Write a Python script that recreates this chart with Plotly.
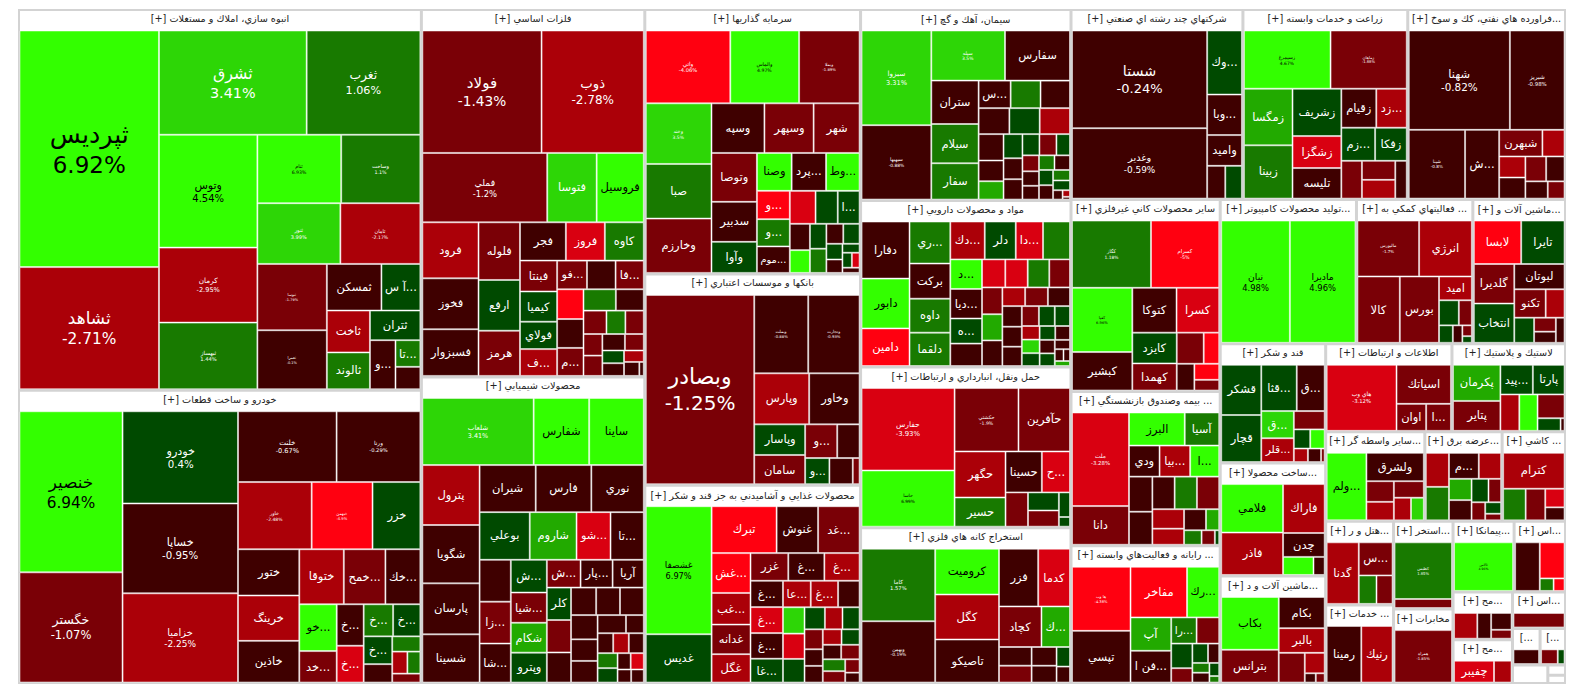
# Tehran stock market treemap, grouped by industry
import math
import plotly.graph_objects as go

# Industry headers and their measured box areas
sector_names = [
    "انبوه سازي، املاك و مستغلات", "خودرو و ساخت قطعات", "فلزات اساسي", "محصولات شيميايي",
    "سرمايه گذاريها", "بانكها و موسسات اعتباري", "محصولات غذايي و آشاميدني به جز قند و شكر",
    "سيمان، آهك و گچ", "مواد و محصولات دارويي", "حمل ونقل، انبارداري و ارتباطات",
    "استخراج كانه هاي فلزي", "شركتهاي چند رشته اي صنعتي", "زراعت و خدمات وابسته",
    "فراورده هاي نفتي، كك و سوخ...", "ساير محصولات كاني غيرفلزي", "بيمه وصندوق بازنشستگي ...",
    "رايانه و فعاليت‌هاي وابسته ...", "توليد محصولات كامپيوتر...", "فعاليتهاي كمكي به ...",
    "ماشين آلات و...", "قند و شكر", "ساخت محصولا...", "ماشين آلات و د...",
    "اطلاعات و ارتباطات", "لاستيك و پلاستيك", "ساير واسطه گر...", "عرضه برق...", "كاشي ...",
    "هتل و ر...", "خدمات ...", "استخر...", "مخابرات", "پيمانكا...", "اس...", "مح...", "مح...",
    "اس...", "...", "...", "", "", "",
]
sector_areas = [
    1366, 1052, 731, 610, 508, 406, 381, 358, 312, 301, 292, 291, 279, 267, 255, 205, 183,
    175, 149.5, 119, 112, 106, 101, 99, 89, 79, 61.6, 50.5, 50.5, 47.5, 46.5, 39.4, 38.4, 32.3, 25.3, 23.2, 17.2,
    9, 8.3, 5.8, 1.6, 1.3,
]

s01_names = ["ثپردیس", "ثشاهد", "ثشرق", "ثغرب", "وتوس", "كرمان", "ثبهساز", "ثنام", "وساخت", "ثنور", "ثامان", "ثنوسا", "ثعمرا", "ثمسكن", "آ س...", "ثاخت", "ثالوند", "ثتران", "و...", "تا...", ""]
s01_values = [293.5, 150.7, 136, 104.4, 97.8, 64.6, 57.3, 50, 47.2, 43.8, 42.2, 40, 35.5, 21.8, 15.4, 15.3, 13.4, 12.6, 10.5, 5.4, 4.5]
s01_pcts = [6.92, -2.71, 3.41, 1.06, 4.54, -2.95, 1.44, 6.93, 1.1, 3.99, -2.17, -1.79, -0.1, -0.6, 0.5, -2.5, 1.4, 0.6, -0.5, 1.3, -0.4]

s02_names = ["خنصير", "خگستر", "خودرو", "خساپا", "خزامیا", "خلنت", "ورنا", "خاور", "خبهمن", "خزر", "ختور", "خرينگ", "خاذين", "ختوقا", "خمح...", "خك...", "خو...", "خد...", "خ...", "خ...", "خ...", "خ...", "خ...", "", "", "", "", ""]
s02_values = [146.4, 99.7, 93.4, 91, 90.3, 60.9, 51.6, 42.9, 35.3, 27.6, 24.3, 23.8, 21.8, 20.9, 19.5, 16.3, 14.8, 9.8, 9.3, 8.2, 7.8, 7.2, 6.5, 4.2, 3.4, 2.6, 2.2, 1.9]
s02_pcts = [6.94, -1.07, 0.4, -0.95, -2.25, -0.67, -0.29, -2.48, -4.9, 0.7, -0.5, -2.4, -0.6, -2.6, -1.5, -0.4, 5.1, -1.4, -0.3, -3.5, 1.5, 0.5, 0.6, -0.4, 1.2, -2.2, 1.4, -1.6]

s03_names = ["فولاد", "ذوب", "فملي", "فتوسا", "فروسيل", "فرود", "فخوز", "فسبزوار", "فلوله", "ارفع", "هرمز", "فجر", "فروز", "كاوه", "فبنتا", "كيميا", "فولاي", "ف...", "فو...", "", "فا...", "", "", "م...", "", "", "", "", "", "", "", "", "", "", "", "", "", ""]
s03_values = [128, 109.6, 75.5, 29.4, 28, 26.9, 24.4, 22.3, 20.3, 17.8, 15.8, 14.8, 12.5, 12.5, 9.5, 9.3, 8.4, 8.2, 7, 6.7, 6.6, 6.4, 6.2, 6, 5.6, 4.8, 4.3, 3.5, 3.4, 3.2, 2.9, 2.4, 3, 2.1, 1.7, 2.1, 1.6, 0.4]
s03_pcts = [-1.43, -2.78, -1.2, 3.5, 5.2, -2.4, -0.6, -0.5, -1.5, 0.6, -1.3, -0.7, -3.3, 1.4, -1.2, 0.5, 0.4, -2.5, -1.4, -0.4, -1.3, -4.6, -0.5, -1.4, 1.5, -0.3, -1.5, 1.2, -1.6, -1.5, -0.5, -1.3, -1.4, 0.5, -2.6, -0.2, -0.4, -0.5]

s04_names = ["شلعاب", "شفارس", "ساينا", "پترول", "شگويا", "پارسان", "شسينا", "شيران", "فارس", "نوري", "بوعلي", "شاروم", "شو...", "تا...", "", "زا...", "شا...", "ش...", "شيا...", "شكام", "وپترو", "ش...", "پار...", "آريا", "كلر", "", "", "", "", "", "", "", "", "", "", "", "", "", "", "", "", "", "", ""]
s04_values = [65, 32, 31.5, 29.4, 28.6, 24.9, 23.5, 22.5, 22.3, 21, 20.3, 18.9, 13.6, 13.3, 10.9, 10.9, 10.1, 9.8, 9, 8.9, 8.9, 7.7, 7.3, 7.1, 6.4, 6.4, 5.9, 5.6, 5.3, 5.3, 5.2, 4.6, 4.6, 4.1, 2.5, 2.4, 2.4, 2.3, 2.3, 1.6, 1.6, 2.2, 1.3, 1.2]
s04_pcts = [3.41, 4.8, 5.1, -2.3, -0.6, -0.7, -0.5, -0.4, -0.6, -0.7, 0.6, 2.4, -3.4, -0.5, -0.4, -1.4, -0.6, 0.5, -1.5, 2.6, 0.4, -1.3, -0.7, -0.4, 0.6, -1.5, -0.3, -0.5, -0.4, -0.6, -0.3, -0.5, -0.4, -0.6, -0.7, -0.4, -2.3, -0.5, 1.3, -0.4, -3.6, 0.3, -0.4, -0.5]

s05_names = ["واتي", "والماس", "وبملا", "وخند", "صبا", "وخارزم", "وسپه", "وسپهر", "شهر", "وتوصا", "سدبير", "وآوا", "وصنا", "پرد...", "وط...", "و...", "و...", "موم...", "", "ا...", "", "", "", "", "", "", "", "", "", "", "", "", ""]
s05_values = [53, 43, 37.7, 34, 30.6, 30.4, 22.2, 20.6, 19.2, 18.7, 15.2, 11.7, 10.9, 10.8, 10.5, 7.6, 7.3, 7.1, 6.9, 5.8, 5.9, 4.2, 3.6, 3.2, 3.1, 2.5, 1.9, 1.6, 2.6, 1.1, 1, 0.8, 0.6]
s05_pcts = [-4.06, 4.97, -1.89, 3.5, 1.3, -1.4, -0.5, -1.3, -1.5, -1.2, -0.6, 0.5, 5, -0.6, 4.8, -4.4, 1.2, -0.4, -3.3, 0.6, 0.4, -0.5, 5.2, 0.5, 1.3, 0.4, 0.3, -0.4, -0.5, 0.6, 0.4, -3.5, -0.6]

s06_names = ["وبصادر", "وبملت", "وتجارت", "وپارس", "وخاور", "وپاسار", "سامان", "و...", "", "و...", "", ""]
s06_values = [180, 36.3, 34.5, 23.8, 21.8, 13, 12.4, 8.9, 6.1, 5.1, 4.9, 1.3]
s06_pcts = [-1.25, -0.88, -0.93, -2.2, -0.7, 0.5, -1.3, -1.4, -0.5, 0.4, -0.6, -1.2]

s07_names = ["غشصفا", "غديس", "تبرك", "غنوش", "غد...", "غش...", "غب...", "غدانه", "غگل", "غزر", "غ...", "غ...", "غ...", "غ...", "غ...", "غا...", "عا...", "غ...", "", "", "", "", "", "", "", "", "", "", "", "", "", "", "", "", "", ""]
s07_values = [72.4, 26.8, 25.7, 16.2, 16.2, 12.8, 10.1, 9.4, 9, 8.5, 8.1, 7.9, 6.9, 6.8, 6.7, 6.2, 5.9, 5.8, 4.5, 4.5, 4.3, 4, 3.5, 3, 2.9, 2.1, 2, 2, 2.8, 2.3, 2.2, 2, 2.3, 1.9, 1.4, 1]
s07_pcts = [6.97, 0.6, -4.4, -0.6, -1.4, -4.6, -2.4, -1.3, -2.6, -1.5, -0.5, -2.5, -0.7, -3.2, -0.4, 0.5, -2.3, -2.7, -0.5, 3.6, -3.4, 0.4, 0.6, -2.3, 0.5, 0.3, -0.5, -1.4, -1.5, -0.4, -2.6, 1.4, -0.5, -1.2, -1.4, -0.4]

s08_names = ["سبزوا", "سبهبها", "سيله", "سفارس", "ستران", "سيلام", "سفار", "س...", "", "", "", "", "", "", "", "", "", "", "", "", "", "", "", "", "", "", "", "", "", "", "", "", "", ""]
s08_values = [57.1, 44.7, 31.6, 27.8, 17.3, 15.6, 14.4, 7.2, 6.7, 6.5, 6.6, 6.4, 6.4, 5.3, 4.1, 3.6, 3.6, 3.1, 3, 2.8, 2, 1.8, 1.7, 2.8, 2.2, 1.7, 1.6, 1.5, 1.7, 1.3, 1.2, 0.6, 0.3, 0.1]
s08_pcts = [3.31, -0.88, 3.5, -0.6, -0.7, 1.3, 1.5, -0.5, 1.4, -0.4, -0.6, 0.5, -2.5, -0.4, -0.7, 2.5, 0.4, -0.6, -0.5, 0.6, -1.6, -0.4, -0.5, -1.4, 0.5, 1.3, 0.4, -0.6, -0.5, 1.4, 0.6, -0.5, -2.4, -0.3]

s09_names = ["دفارا", "دابور", "دامين", "ري...", "بركت", "داوه", "دلقما", "دك...", "دلر", "دا...", "", "د...", "ديا...", "ه...", "", "", "", "", "", "", "", "", "", "", "", "", "", "", "", "", "", "", "", "", "", "", "", "", "", "", "", ""]
s09_values = [23, 20, 15, 14.2, 11.8, 11.4, 11.2, 10.7, 9.6, 8.4, 8.3, 7.6, 7.6, 6.4, 5.7, 5.2, 5, 4.8, 4.6, 4.3, 4.1, 4.2, 3.3, 3.3, 3.2, 3.1, 3, 2.4, 2.3, 2.9, 1.8, 1.6, 1.5, 2.6, 1.8, 1.7, 1.5, 1.4, 1, 0.7, 0.5, 0.5]
s09_pcts = [-0.6, 5.4, -4.5, 1.4, -0.5, 1.3, 1.2, -2.4, 0.5, -3.3, 1.5, 4.9, -0.6, 0.4, -0.5, -3.4, -3.6, 1.3, -1.5, -1.4, -0.6, 2.4, -2.6, -1.4, -0.5, -0.4, -0.6, 0.5, 0.4, -0.7, -2.3, 0.6, -0.5, -1.4, 3.4, 0.5, -0.4, 0.3, -0.6, -0.5, -0.4, 2.6]

s10_names = ["حفارس", "حاسا", "حكشتي", "حآفرين", "حگهر", "حسير", "حسينا", "ح...", "", "", "", "", ""]
s10_values = [67, 45.4, 35, 28.1, 20, 12.5, 12.5, 9.6, 6.3, 4.5, 2.1, 4, 0.75]
s10_pcts = [-3.93, 6.99, -1.9, -1.5, -2.4, 1.3, -0.6, -3.4, -1.2, 0.5, 0.4, -1.4, 0.6]

s11_names = ["كاما", "وبهمن", "كروميت", "كگل", "تاصيكو", "فزر", "كدما", "كچاد", "ك...", "", "", "", "", "", ""]
s11_values = [46.2, 38.9, 25, 24.5, 23.4, 19.2, 15.5, 14.5, 9.6, 4.9, 4.4, 3.7, 3.3, 2, 1.6]
s11_pcts = [1.57, -0.19, 4.8, -2.6, -0.6, -0.4, -3.4, -1.4, 2.5, -0.5, -1.3, -0.6, -0.7, 0.5, -0.4]

s12_names = ["شستا", "وغدير", "وك...", "وبا...", "واميد", "", ""]
s12_values = [114, 81.8, 18.6, 11.6, 8.7, 4.7, 4.3]
s12_pcts = [-0.24, -0.59, 0.5, -0.6, -0.5, -0.4, 0.6]

s13_names = ["زسيمرغ", "زماهان", "زمگسا", "زبينا", "زشريف", "زشگزا", "تليسه", "زقيام", "زد...", "زم...", "زفكا", "", "", "", ""]
s13_values = [43.3, 38, 23.3, 21.9, 19.5, 13, 12.4, 11.3, 9.8, 9.2, 8.6, 6.3, 5.1, 5, 3.4]
s13_pcts = [4.67, -1.88, 2.6, 1.7, 0.6, -3.5, -0.5, -0.7, -2.4, 0.5, 0.4, -1.4, -1.5, -2.6, -0.5]

s14_names = ["شهنا", "شبريز", "شپنا", "ش...", "شبهرن", "", "", "", "", "", "", ""]
s14_values = [87.3, 46.7, 33.1, 19.8, 9.5, 4.7, 4.4, 4.1, 3.6, 4.4, 3, 2.2]
s14_pcts = [-0.82, -0.98, -0.8, -0.6, -1.4, -2.3, -2.5, -1.3, -0.5, -0.6, -0.4, -1.5]

s15_names = ["كگاز", "كسرام", "كفپا", "كبشير", "كتوكا", "كسرا", "كايزد", "كهمدا", "", "", "", "", ""]
s15_values = [45.5, 39.2, 33, 19.5, 16.6, 16, 11.3, 9.9, 6.8, 3.8, 3.7, 3.1, 2]
s15_pcts = [1.18, -5, 6.96, -0.6, -0.5, -3.6, 0.5, -1.4, -1.3, -4.5, -0.6, -4.7, -1.2]

s16_names = ["ملت", "دانا", "البرز", "آسيا", "ودي", "بيا...", "ا...", "", "", "", "", "", "", "", "", "", "", "", ""]
s16_values = [45.4, 18.4, 15.3, 9.3, 7.7, 7.7, 7.3, 6.6, 6.2, 5.8, 5.8, 5.8, 4.9, 4, 3.6, 2.1, 1.9, 1.4, 0.4]
s16_pcts = [-3.28, -1.4, 5.1, 1.3, -0.6, -2.3, 4.7, -0.5, -0.4, -0.6, 1.4, -1.3, -2.4, -2.6, -0.5, 2.4, 1.5, -1.4, 0.5]

s17_names = ["ها وب", "تپسي", "مفاخر", "رك...", "آپ", "فن ا...", "را...", "", "", "", "", "", "", "", "", ""]
s17_values = [31.8, 25.5, 24.1, 13.5, 11.2, 10.6, 5.3, 4.7, 4.1, 2.3, 2.3, 1.6, 1.2, 0.9, 1.2, 0.4]
s17_pcts = [-4.38, -0.5, -4.6, 5.3, 2.5, -0.6, 1.3, -1.4, 0.5, -1.5, 0.4, -0.4, 1.2, 0.6, -0.5, 1.4]

s18_names = ["نيان", "ماديرا"]
s18_values = [72.6, 69.3]
s18_pcts = [4.98, 4.96]

s19_names = ["مالبورس", "انرژي", "كالا", "بورس", "اميد", "", "", "", "", "", ""]
s19_values = [29.2, 24.9, 23.7, 21.9, 6.3, 3.9, 2.5, 1.8, 1.2, 0.7, 0.4]
s19_pcts = [-1.7, -2.3, -1.4, -1.5, -2.6, 0.5, -1.3, 0.4, -0.5, -1.6, 0.6]

s20_names = ["لابسا", "تايرا", "گلديرا", "انتخاب", "لبوتان", "تكنو", "", "", "", "", ""]
s20_values = [17.1, 15.6, 13.2, 13.1, 10.4, 7.2, 4.2, 3.9, 2.3, 1.8, 1.6]
s20_pcts = [-4.5, 0.5, -1.4, 0.6, -0.5, -1.3, -2.4, 0.4, -1.5, -0.6, -0.4]

s21_names = ["قشكر", "قچار", "قثا...", "ق...", "ق...", "قلر...", "", "", "", "", "", ""]
s21_values = [16.9, 15.8, 13.7, 10.7, 7.2, 6.3, 4.5, 2.4, 2.1, 1.4, 1.3, 0.3]
s21_pcts = [0.6, 0.5, 0.4, -0.5, 3.4, -2.4, -1.4, 0.3, 5.2, -2.5, -0.6, -1.3]

s22_names = ["فلامي", "فاذر", "فاراك", "چدن", "", ""]
s22_values = [25.6, 22.3, 17.2, 8.2, 4.4, 1.5]
s22_pcts = [5.1, -2.5, -2.4, -0.6, 4.9, -0.5]

s23_names = ["بكاب", "بترانس", "بكام", "بالبر", "", "", "", ""]
s23_values = [26, 15.9, 12, 9.4, 6.3, 3.2, 0.7, 0.55]
s23_pcts = [5.3, -1.2, -0.6, -2.4, -1.4, -2.3, -0.5, -1.3]

s24_names = ["هاي وب", "اسياتك", "اوان", "ا..."]
s24_values = [39.6, 17.9, 6.5, 5.4]
s24_pcts = [-3.12, -1.4, -1.3, -1.5]

s25_names = ["پكرمان", "پتاير", "پيد...", "پارتا", "", "", "", "", ""]
s25_values = [14.2, 11.7, 7.8, 7.6, 5.5, 5.3, 5.1, 2.2, 0.3]
s25_pcts = [2.5, -1.4, 0.5, 0.4, -2.4, 5.2, -1.3, 0.6, -0.5]

s26_names = ["ولم...", "ولشرق", "", "", "", "", ""]
s26_values = [22.6, 13.5, 4.5, 3.9, 4, 3, 2.2]
s26_pcts = [5.4, -0.6, -1.4, -1.3, -2.3, -2.5, 3.5]

s27_names = ["", "", "م...", "", "", "", "", "", "", "", ""]
s27_values = [6.2, 6.1, 6.1, 4.5, 3.7, 3, 1.8, 3.5, 2.2, 1.3, 0.7]
s27_pcts = [-2.4, 1.4, -0.6, -2.5, 2.4, 0.5, -1.4, -0.5, -1.3, 0.4, -1.5]

s28_names = ["كترام", "", "", "", ""]
s28_values = [18.7, 5.8, 5, 2.8, 1.9]
s28_pcts = [-2.4, 1.3, -1.4, -3.4, -0.5]

s29_names = ["گدنا", "س...", "", ""]
s29_values = [16.6, 9.2, 4, 3.6]
s29_pcts = [-2.5, -1.4, 1.3, -1.3]

s30_names = ["رمينا", "رنيك"]
s30_values = [16.9, 15.2]
s30_pcts = [-0.6, -2.4]

s31_names = ["كطبس", ""]
s31_values = [27.9, 4.2]
s31_pcts = [1.85, -1.4]

s32_names = ["همراه"]
s32_values = [26.2]
s32_pcts = [-1.85]

s33_names = ["ثالاس"]
s33_values = [25]
s33_pcts = [4.96]

s34_names = ["", "", "", ""]
s34_values = [10.2, 7.5, 1.3, 1]
s34_pcts = [-0.6, -4.5, 1.3, -4.4]

s35_names = ["", "", "", ""]
s35_values = [4.7, 2.7, 2.6, 1.3]
s35_pcts = [-2.4, -0.6, -0.5, -1.4]

s36_names = ["چفيبر", ""]
s36_values = [7.4, 3.1]
s36_pcts = [-3.4, -2.5]

s37_names = [""]
s37_values = [6]
s37_pcts = [-1.3]

s38_names = [""]
s38_values = [2.9]
s38_pcts = [-0.5]

s39_names = ["", ""]
s39_values = [1.9, 0.7]
s39_pcts = [-1.4, 0.5]

sector_cells = [
    (s01_names, s01_values, s01_pcts), (s02_names, s02_values, s02_pcts), (s03_names, s03_values, s03_pcts),
    (s04_names, s04_values, s04_pcts), (s05_names, s05_values, s05_pcts), (s06_names, s06_values, s06_pcts),
    (s07_names, s07_values, s07_pcts), (s08_names, s08_values, s08_pcts), (s09_names, s09_values, s09_pcts),
    (s10_names, s10_values, s10_pcts), (s11_names, s11_values, s11_pcts), (s12_names, s12_values, s12_pcts),
    (s13_names, s13_values, s13_pcts), (s14_names, s14_values, s14_pcts), (s15_names, s15_values, s15_pcts),
    (s16_names, s16_values, s16_pcts), (s17_names, s17_values, s17_pcts), (s18_names, s18_values, s18_pcts),
    (s19_names, s19_values, s19_pcts), (s20_names, s20_values, s20_pcts), (s21_names, s21_values, s21_pcts),
    (s22_names, s22_values, s22_pcts), (s23_names, s23_values, s23_pcts), (s24_names, s24_values, s24_pcts),
    (s25_names, s25_values, s25_pcts), (s26_names, s26_values, s26_pcts), (s27_names, s27_values, s27_pcts),
    (s28_names, s28_values, s28_pcts), (s29_names, s29_values, s29_pcts), (s30_names, s30_values, s30_pcts),
    (s31_names, s31_values, s31_pcts), (s32_names, s32_values, s32_pcts), (s33_names, s33_values, s33_pcts),
    (s34_names, s34_values, s34_pcts), (s35_names, s35_values, s35_pcts), (s36_names, s36_values, s36_pcts),
    (s37_names, s37_values, s37_pcts), (s38_names, s38_values, s38_pcts), (s39_names, s39_values, s39_pcts),
    ([""], [1], [None]), ([""], [1], [None]), ([""], [1], [None]),
]

# Cells that also show the percentage, with the font size they use
pct_label_sizes = {
    "ثپردیس": 23, "ثشاهد": 15.4, "ثشرق": 14.4, "ثغرب": 11.2, "وتوس": 10, "ثنام": 4.6, "وساخت": 4.8, "ثنور": 5,
    "ثامان": 4.6, "كرمان": 6.6, "ثبهساز": 5.2, "ثنوسا": 3.5, "ثعمرا": 3.5, "خنصير": 15.3, "خگستر": 11.5,
    "خودرو": 10.2, "خساپا": 10.2, "خزامیا": 9, "خلنت": 6.6, "ورنا": 5.2, "خاور": 4.5, "خبهمن": 3.7, "فولاد": 13.7,
    "ذوب": 12, "فملي": 8.4, "واتي": 5.2, "والماس": 4.6, "وبملا": 3.8, "وخند": 4.5, "وبصادر": 20, "وبملت": 3.8,
    "وتجارت": 3.8, "شلعاب": 6.4, "غشصفا": 8.2, "سبزوا": 6.6, "سبهبها": 4.4, "سيله": 4.5, "شستا": 13, "وغدير": 8.9,
    "حفارس": 6.9, "حاسا": 4.3, "حكشتي": 4.6, "كاما": 5.2, "وبهمن": 4.4, "زسيمرغ": 4.5, "زماهان": 3.7, "شهنا": 10.4,
    "شبريز": 5.4, "شپنا": 4.2, "كگاز": 4.4, "كسرام": 4.8, "كفپا": 3.7, "ملت": 5.4, "ها وب": 3.6, "نيان": 8.4,
    "ماديرا": 8.4, "مالبورس": 4, "هاي وب": 5.3, "كطبس": 3.7, "همراه": 3.8, "ثالاس": 3.2,
}


def cell_color(p):
    if p is None:
        return "#ffffff"
    if p >= 4:
        return "#33ff00"
    if p >= 3:
        return "#2dd606"
    if p >= 2:
        return "#22aa00"
    if p >= 1:
        return "#187a00"
    if p >= 0:
        return "#004a00"
    if p > -1:
        return "#3f0000"
    if p > -2:
        return "#7a0006"
    if p > -3:
        return "#ab0008"
    if p > -4:
        return "#d90011"
    return "#ff0010"


ids, parents, labels, values, texts = [], [], [], [], []
colors, line_colors, line_widths, font_sizes, font_colors = [], [], [], [], []

for i, (sector, area, cells) in enumerate(zip(sector_names, sector_areas, sector_cells)):
    names, vals, pcts = cells
    sid = "s%d" % i
    header = "[+] " + sector if sector and sector != "..." else ("[..." if sector else " ")
    ids.append(sid)
    parents.append("")
    # headers always draw their label, so the [+] goes there
    labels.append(header)
    values.append(0)
    texts.append(header)
    colors.append("#ffffff")
    line_colors.append("#d3d3d3")
    line_widths.append(2)
    font_sizes.append(9.7)
    font_colors.append("#222222")

    # cells were measured inside the white gaps, add the gap back before stretching
    # them to fill the box, whose area includes the header
    grown = [v + 0.253 * math.sqrt(v) for v in vals]
    scale = area / sum(grown)
    for j, (name, val, pct) in enumerate(zip(names, grown, pcts)):
        ids.append("%s-%d" % (sid, j))
        parents.append(sid)
        labels.append(name)
        values.append(val * scale)
        if name in pct_label_sizes:
            texts.append('<span style="font-size:1.1em">%s</span><br>%s%%' % (name, pct))
        else:
            texts.append(name)
        colors.append(cell_color(pct))
        line_colors.append("#ffffff")
        line_widths.append(0.5)
        font_sizes.append(pct_label_sizes.get(name, 11.5))
        font_colors.append("#000000" if pct is not None and pct >= 4 else "#ffffff")

data = [go.Treemap(ids=ids,
                   labels=labels,
                   parents=parents,
                   values=values,
                   text=texts,
                   textinfo="text",
                   branchvalues="remainder",
                   textposition="middle center",
                   textfont=dict(family="DejaVu Sans", size=font_sizes, color=font_colors),
                   insidetextfont=dict(family="DejaVu Sans", size=font_sizes, color=font_colors),
                   hoverinfo="label+text",
                   pathbar=dict(visible=False),
                   tiling=dict(packing="squarify", squarifyratio=1, pad=1),
                   root=dict(color="white"),
                   marker=dict(colors=colors,
                               depthfade=False,
                               line=dict(color=line_colors, width=line_widths),
                               pad=dict(t=21, l=1, r=1, b=1)))]

layout = go.Layout(width=1584,
                   height=709,
                   margin=dict(l=17.5, r=18, t=0, b=14),
                   paper_bgcolor="white",
                   font=dict(family="DejaVu Sans"))

fig = go.Figure(data=data, layout=layout)

# the hidden root keeps a header strip, so pull the plot up over it
shift = ("document.documentElement.style.overflow='hidden';"
         "document.body.style.margin='0';"
         "document.getElementById('{plot_id}').style.marginTop='-11px';")
fig.write_html("out.html", post_script=shift, config={"displayModeBar": False})
